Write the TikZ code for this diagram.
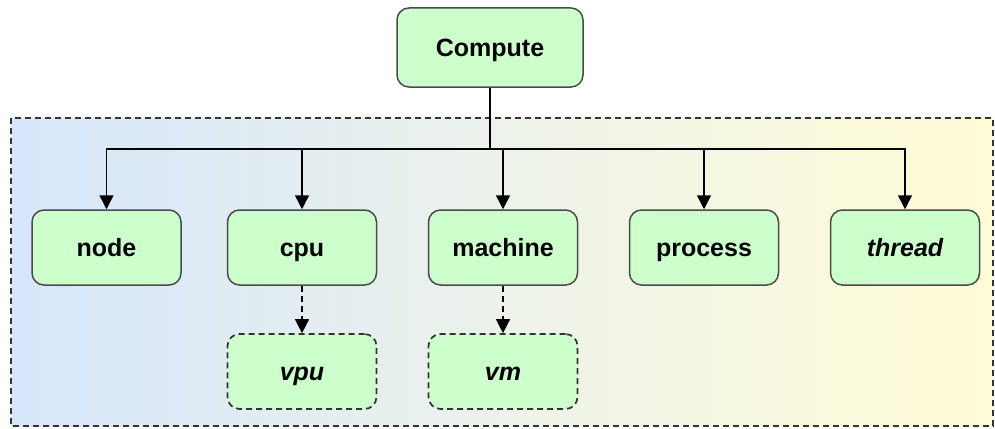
\documentclass[tikz,border=0pt]{standalone}
\usepackage{fontspec}
\setmainfont{Liberation Sans}
\usetikzlibrary{arrows.meta}
\definecolor{boxfill}{HTML}{CCFFCC}
\definecolor{boxdraw}{HTML}{4A4A4A}
\definecolor{bgleft}{HTML}{D6E6FA}
\definecolor{bgright}{HTML}{FFFCD6}
\tikzset{
  box/.style={draw=boxdraw, line width=1.5pt, fill=boxfill, rounded corners=12pt,
    minimum width=149pt, minimum height=75pt, inner sep=0pt,
    text height=18pt, text depth=0pt,
    font=\fontsize{25}{28}\selectfont\bfseries},
  vbox/.style={box, draw=black!80, line width=1.7pt, dash pattern=on 6pt off 4pt},
  conn/.style={line width=1.5pt, -{Triangle[length=14pt,width=14pt]}},
  vconn/.style={conn, dash pattern=on 6pt off 4pt},
}
\begin{document}
\begin{tikzpicture}[x=1pt,y=-1pt]
\useasboundingbox (0,0) rectangle (995,428);
\shade[left color=bgleft, right color=bgright, middle color=bgleft!50!bgright!90!white] (11,118) rectangle (993,426);
\draw[color=black!80, line width=1.4pt, dash pattern=on 6pt off 4pt] (11,118) rectangle (993,426);
\node[box, minimum width=186pt, minimum height=79pt] (compute) at (490,47.5) {Compute};
\node[box] (node) at (106.5,247.5) {node};
\node[box] (cpu) at (302,247.5) {cpu};
\node[box] (machine) at (503,247.5) {machine};
\node[box] (process) at (704,247.5) {process};
\node[box] (thread) at (905,247.5) {\itshape thread};
\node[vbox] (vpu) at (302,371.5) {\itshape vpu};
\node[vbox] (vm) at (503,371.5) {\itshape vm};
\coordinate (bus) at (490,149);
\draw[line width=1.5pt] (compute.south) -- (bus);
\foreach \c in {node,cpu,machine,process,thread}
  \draw[conn] (bus) -| (\c.north);
\draw[vconn] (cpu) -- (vpu);
\draw[vconn] (machine) -- (vm);
\end{tikzpicture}
\end{document}
